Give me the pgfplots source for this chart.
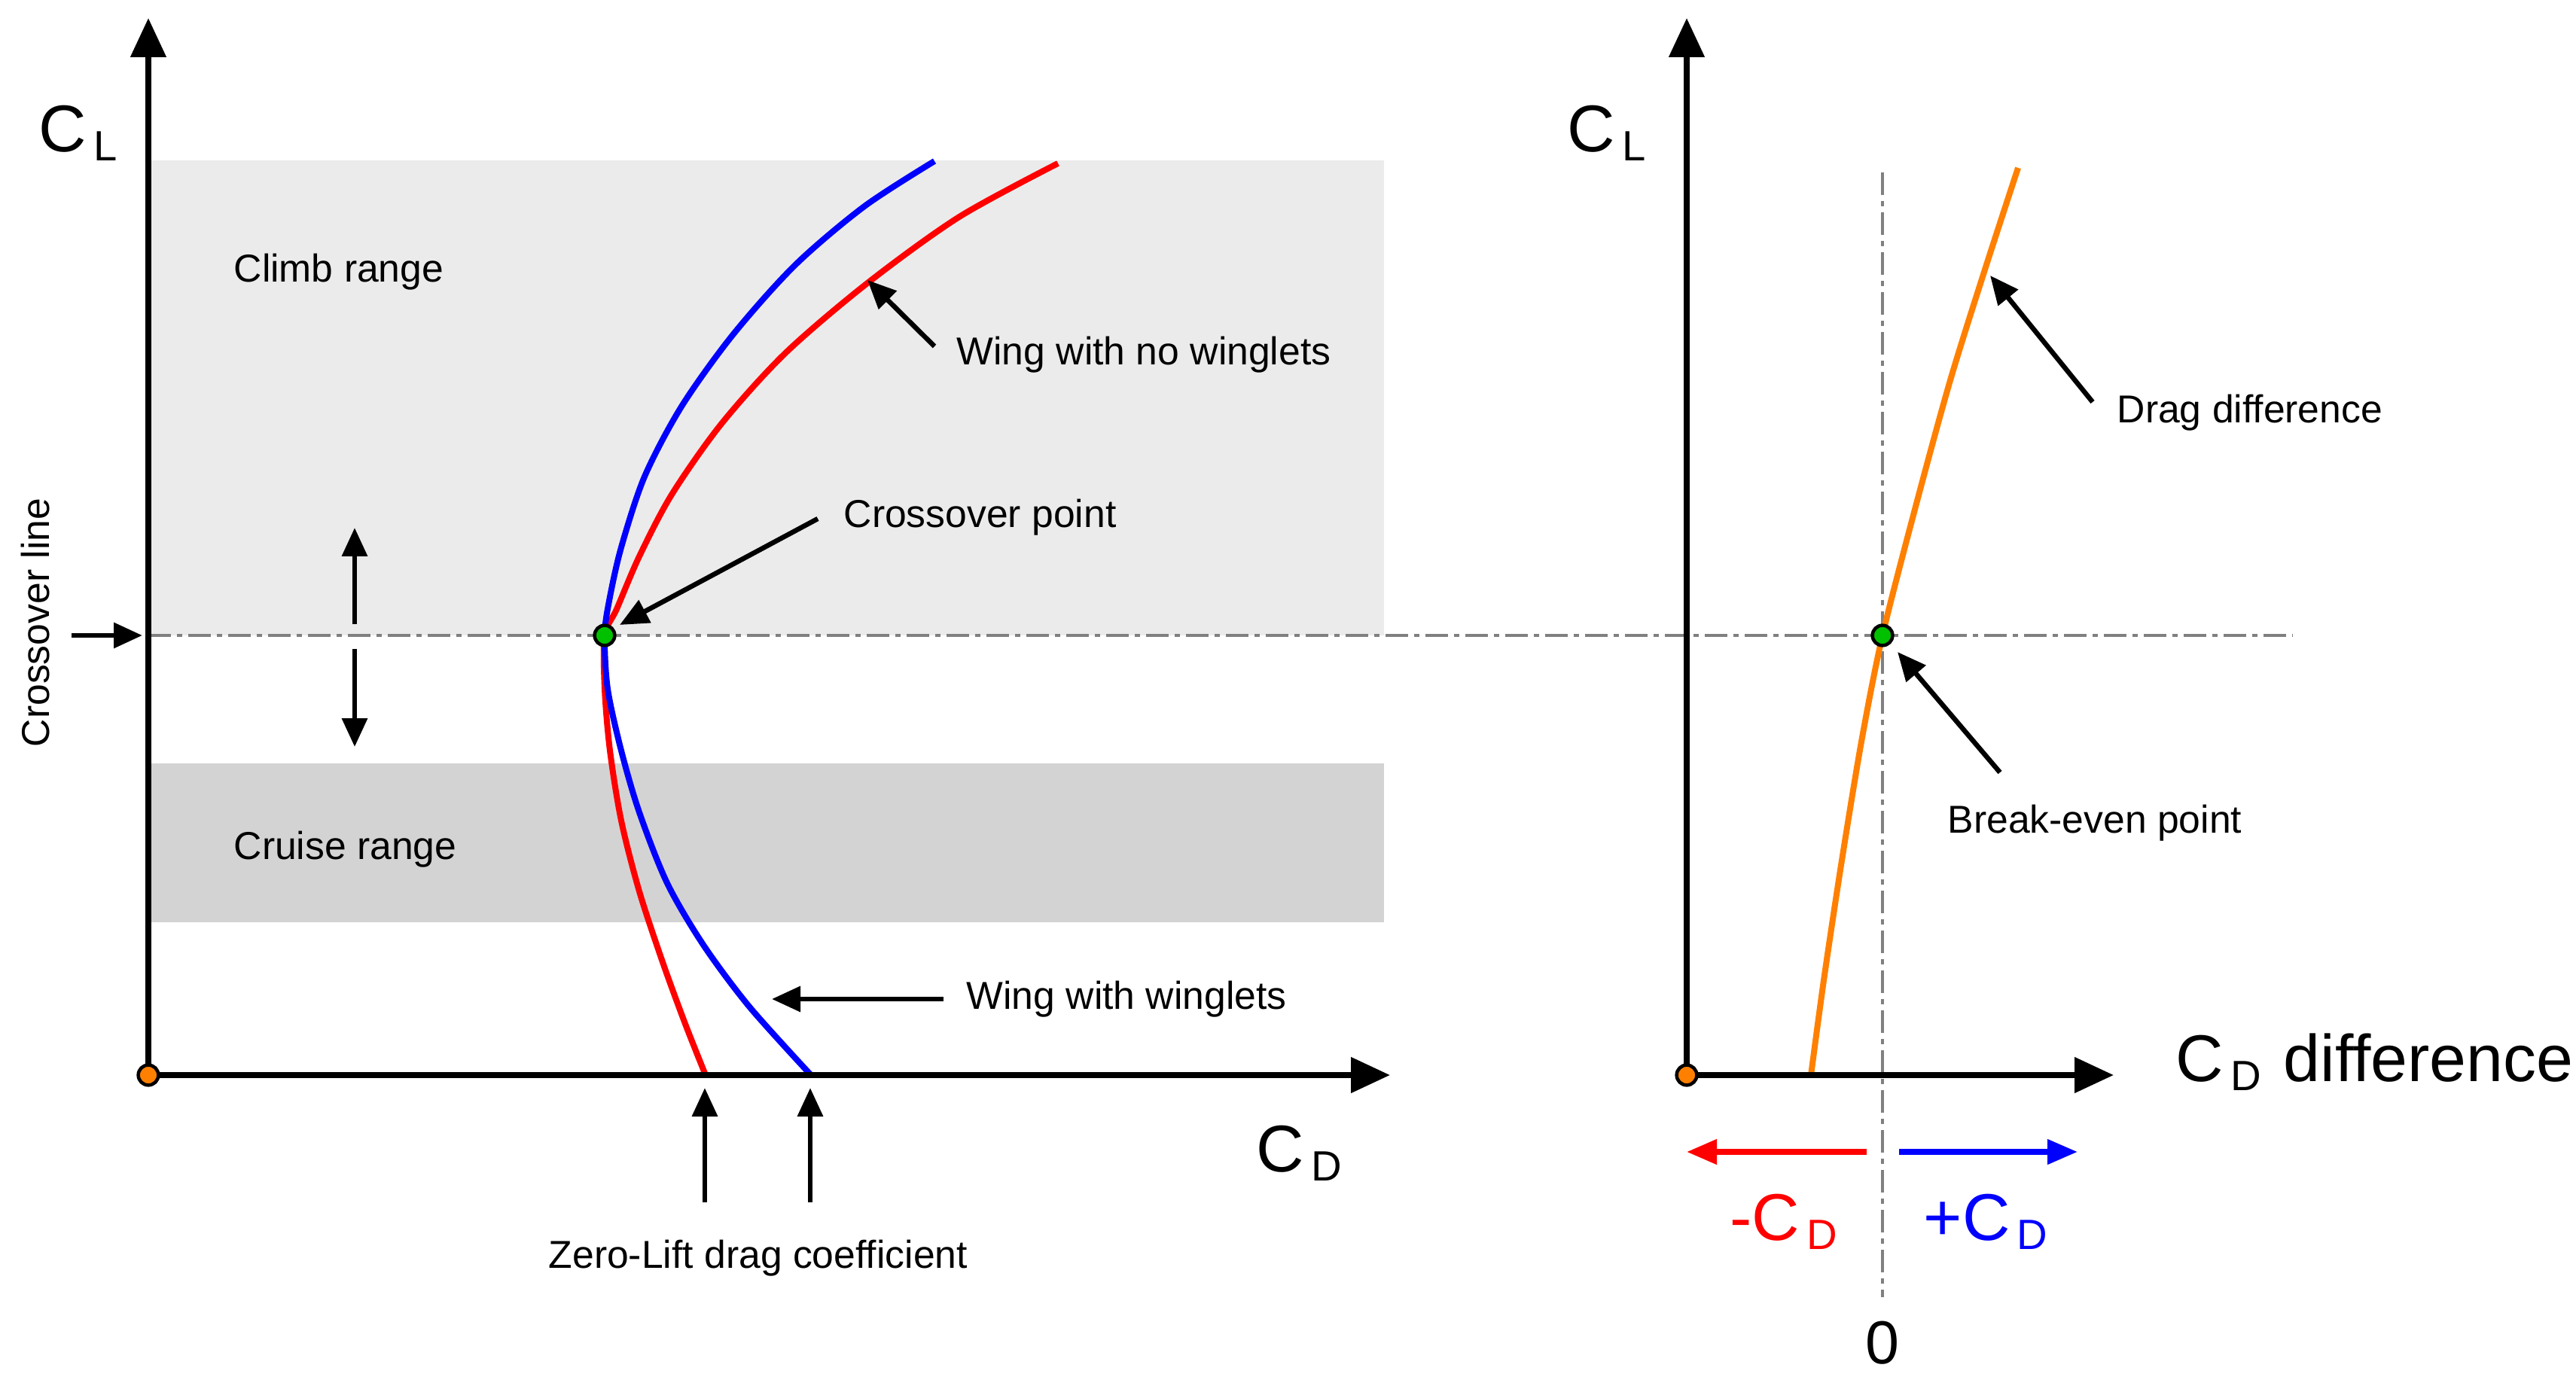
\documentclass[border=0pt]{standalone}
\usepackage{pgfplots}
\pgfplotsset{compat=1.18}
\usetikzlibrary{arrows.meta}
\usepackage{fontspec}
\setmainfont{Liberation Sans}
\definecolor{climb}{HTML}{EBEBEB}
\definecolor{cruise}{HTML}{D3D3D3}
\definecolor{dashgray}{HTML}{808080}
\definecolor{orng}{HTML}{FF8000}
\definecolor{grn}{HTML}{00C000}
\newcommand{\lbl}{\fontsize{14.7}{17}\selectfont}
\newcommand{\bigf}{\fontsize{25}{30}\selectfont}
\newcommand{\subf}[1]{\hspace{0.09cm}\raisebox{-0.12cm}{\fontsize{16}{18}\selectfont #1}}
\begin{document}
\begin{tikzpicture}
\begin{axis}[scale only axis, width=34.21cm, height=18.37cm,
  xmin=0, xmax=3421, ymin=0, ymax=1837, y dir=reverse,
  hide axis, clip=false]
\path (rel axis cs:0,0) rectangle (rel axis cs:1,1);
% ranges
\addplot[fill=climb, draw=none] coordinates {(197,213) (1838,213) (1838,844) (197,844)} -- cycle;
\addplot[fill=cruise, draw=none] coordinates {(197,1014) (1838,1014) (1838,1225) (197,1225)} -- cycle;
% crossover / zero lines
\addplot[dashgray, line width=0.04cm, dash pattern=on 0.30cm off 0.08cm on 0.07cm off 0.08cm] coordinates {(197,844) (3045,844)};
\addplot[dashgray, line width=0.04cm, dash pattern=on 0.30cm off 0.08cm on 0.07cm off 0.08cm] coordinates {(2500,229) (2500,1723)};
% wing with no winglets
\addplot[red, line width=0.08cm, smooth] coordinates {
(1405,217) (1274,288) (1152,376) (1043,469) (958,563) (892,657) (849,739) (819,809) (803,844)
(803,915) (810,997) (825,1090) (849,1184) (880,1278) (910,1360) (937,1428)};
% wing with winglets
\addplot[blue, line width=0.08cm, smooth] coordinates {
(1241,214) (1148,274) (1056,352) (973,445) (905,540) (856,633) (825,727) (809,798) (803,844)
(807,915) (825,997) (849,1079) (886,1173) (934,1255) (995,1337) (1077,1428)};
% drag difference
\addplot[orng, line width=0.08cm, smooth] coordinates {
(2680,223) (2636,358) (2590,505) (2545,669) (2500,844) (2472,985) (2445,1149) (2422,1302) (2405,1428)};
% axes
\draw[line width=0.08cm, -{Triangle[length=0.52cm,width=0.46cm]}] (197,1428) -- (197,24);
\draw[line width=0.08cm, -{Triangle[length=0.52cm,width=0.46cm]}] (197,1428) -- (1846,1428);
\draw[line width=0.08cm, -{Triangle[length=0.52cm,width=0.46cm]}] (2240,1428) -- (2240,24);
\draw[line width=0.08cm, -{Triangle[length=0.52cm,width=0.46cm]}] (2240,1428) -- (2807,1428);
% annotation arrows
\begin{scope}[line width=0.065cm, -{Triangle[length=0.38cm,width=0.33cm]}]
\draw (95,844) -- (189,844);
\draw (471,829) -- (471,701);
\draw (471,862) -- (471,992);
\draw (1241,460) -- (1152,372);
\draw (1086,689) -- (823,830);
\draw (1253,1327) -- (1025,1327);
\draw (936,1597) -- (936,1445);
\draw (1076,1597) -- (1076,1445);
\draw (2779,534) -- (2643,366);
\draw (2656,1026) -- (2520,866);
\end{scope}
\draw[red, line width=0.075cm, -{Triangle[length=0.4cm,width=0.32cm]}] (2479,1530) -- (2240,1530);
\draw[blue, line width=0.075cm, -{Triangle[length=0.4cm,width=0.32cm]}] (2522,1530) -- (2759,1530);
% points
\addplot[only marks, mark=*, mark size=3.8pt, mark options={fill=orng, draw=black, line width=0.045cm}] coordinates {(197,1428) (2240,1428)};
\addplot[only marks, mark=*, mark size=3.8pt, mark options={fill=grn, draw=black, line width=0.045cm}] coordinates {(803,844) (2500,844)};
% texts
\begin{scope}[every node/.style={inner sep=0pt, anchor=base west}]
\node at (310,375) {\lbl Climb range};
\node at (310,1141) {\lbl Cruise range};
\node at (1270,485) {\lbl Wing with no winglets};
\node at (1120,701) {\lbl Crossover point};
\node at (1283,1340) {\lbl Wing with winglets};
\node at (728,1684) {\lbl Zero-Lift drag coefficient};
\node at (2811,562) {\lbl Drag difference};
\node at (2586,1106) {\lbl Break-even point};
\node at (51,202) {\bigf C\subf{L}};
\node at (2081,202) {\bigf C\subf{L}};
\node at (1668,1556) {\bigf C\subf{D}};
\node at (2889,1436) {\bigf C\subf{D}\hspace{0.3cm}difference};
\node[red] at (2297,1647) {\bigf -C\subf{D}};
\node[blue] at (2554,1647) {\bigf +C\subf{D}};
\node[anchor=base] at (2500,1811) {\fontsize{23}{28}\selectfont 0};
\end{scope}
\node[inner sep=0pt, rotate=90, anchor=center] at (47,827) {\lbl Crossover line};
\end{axis}
\end{tikzpicture}
\end{document}
